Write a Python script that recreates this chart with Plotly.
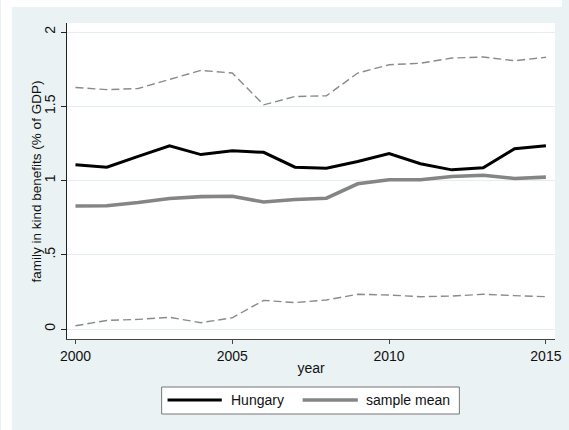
import plotly.graph_objects as go

# Family in-kind benefits, % of GDP
years = list(range(2000, 2016))
hungary = [1.106, 1.090, 1.163, 1.234, 1.175, 1.200, 1.190, 1.090,
           1.083, 1.128, 1.182, 1.113, 1.072, 1.086, 1.214, 1.234]
sample_mean = [0.829, 0.830, 0.852, 0.879, 0.892, 0.894, 0.856, 0.872,
               0.881, 0.978, 1.005, 1.005, 1.027, 1.036, 1.014, 1.023]
band_upper = [1.627, 1.612, 1.620, 1.679, 1.742, 1.724, 1.510, 1.566,
              1.571, 1.724, 1.780, 1.790, 1.825, 1.832, 1.807, 1.830]
band_lower = [0.022, 0.058, 0.065, 0.079, 0.043, 0.076, 0.193, 0.178,
              0.196, 0.234, 0.229, 0.218, 0.222, 0.234, 0.225, 0.218]

x_ticks = [2000, 2005, 2010, 2015]
y_ticks = [0, 0.5, 1, 1.5, 2]
y_tick_labels = ["0", ".5", "1", "1.5", "2"]

W, H = 569, 430
L, R, T, B = 67, 7, 23, 91
PW, PH = W - L - R, H - T - B

BG = "#EAF2F3"
FONT = "Liberation Sans, Arial, sans-serif"


def px_x(p):
    return (p - L) / PW


def px_y(p):
    return (H - B - p) / PH


fig = go.Figure()

band_style = dict(color="#8a8a8a", width=1.4, dash="8px,4px")
fig.add_trace(go.Scatter(x=years, y=band_upper, mode="lines", line=band_style,
                         name="upper", showlegend=False))
fig.add_trace(go.Scatter(x=years, y=band_lower, mode="lines", line=band_style,
                         name="lower", showlegend=False))
fig.add_trace(go.Scatter(x=years, y=sample_mean, mode="lines",
                         line=dict(color="#858585", width=3.6),
                         name="sample mean", showlegend=False))
fig.add_trace(go.Scatter(x=years, y=hungary, mode="lines",
                         line=dict(color="#000000", width=3),
                         name="Hungary", showlegend=False))

shapes = [
    # white strips at the top and left edges of the page
    dict(type="rect", xref="paper", yref="paper", layer="below",
         x0=px_x(0), x1=px_x(W), y0=px_y(7), y1=px_y(0),
         fillcolor="white", line=dict(width=0)),
    dict(type="rect", xref="paper", yref="paper", layer="below",
         x0=px_x(0), x1=px_x(11), y0=px_y(H), y1=px_y(0),
         fillcolor="white", line=dict(width=0)),
    # legend box
    dict(type="rect", xref="paper", yref="paper",
         x0=px_x(163), x1=px_x(465), y0=px_y(414), y1=px_y(387),
         fillcolor="white", line=dict(color="#777777", width=1)),
    dict(type="line", xref="paper", yref="paper",
         x0=px_x(169), x1=px_x(224), y0=px_y(400), y1=px_y(400),
         line=dict(color="#000000", width=3)),
    dict(type="line", xref="paper", yref="paper",
         x0=px_x(306), x1=px_x(362), y0=px_y(400), y1=px_y(400),
         line=dict(color="#858585", width=3.6)),
]

annotations = [
    dict(text="Hungary", xref="paper", yref="paper", x=px_x(231), y=px_y(400),
         xanchor="left", yanchor="middle", showarrow=False,
         font=dict(family=FONT, size=14, color="#111")),
    dict(text="sample mean", xref="paper", yref="paper", x=px_x(368), y=px_y(400),
         xanchor="left", yanchor="middle", showarrow=False,
         font=dict(family=FONT, size=14, color="#111")),
    # y-axis title
    dict(text="family in kind benefits (% of GDP)", xref="paper", yref="paper",
         x=px_x(36), y=0.5, xanchor="center", yanchor="middle", textangle=-90,
         showarrow=False, font=dict(family=FONT, size=13.5, color="#111")),
]

fig.update_layout(
    width=W, height=H,
    margin=dict(l=L, r=R, t=T, b=B, pad=0),
    paper_bgcolor=BG,
    plot_bgcolor="white",
    font=dict(family=FONT, size=14, color="#111"),
    shapes=shapes,
    annotations=annotations,
    showlegend=False,
    xaxis=dict(
        range=[1999.73, 2015.29],
        tickvals=x_ticks, ticktext=[str(v) for v in x_ticks],
        ticks="outside", ticklen=4, tickcolor="#444", tickwidth=1,
        showline=True, linecolor="#444", linewidth=1,
        showgrid=False, zeroline=False,
        tickfont=dict(size=14),
        title=dict(text="year", standoff=0, font=dict(size=14)),
    ),
    yaxis=dict(
        range=[-0.067, 2.061],
        tickvals=y_ticks, ticktext=y_tick_labels,
        tickangle=-90,
        ticks="outside", ticklen=5, tickcolor="#222", tickwidth=1,
        showline=True, linecolor="#222", linewidth=1,
        showgrid=True, gridcolor="#E4EDF0", gridwidth=1,
        zeroline=False,
        tickfont=dict(size=14),
    ),
)

fig.write_html("out.html")
